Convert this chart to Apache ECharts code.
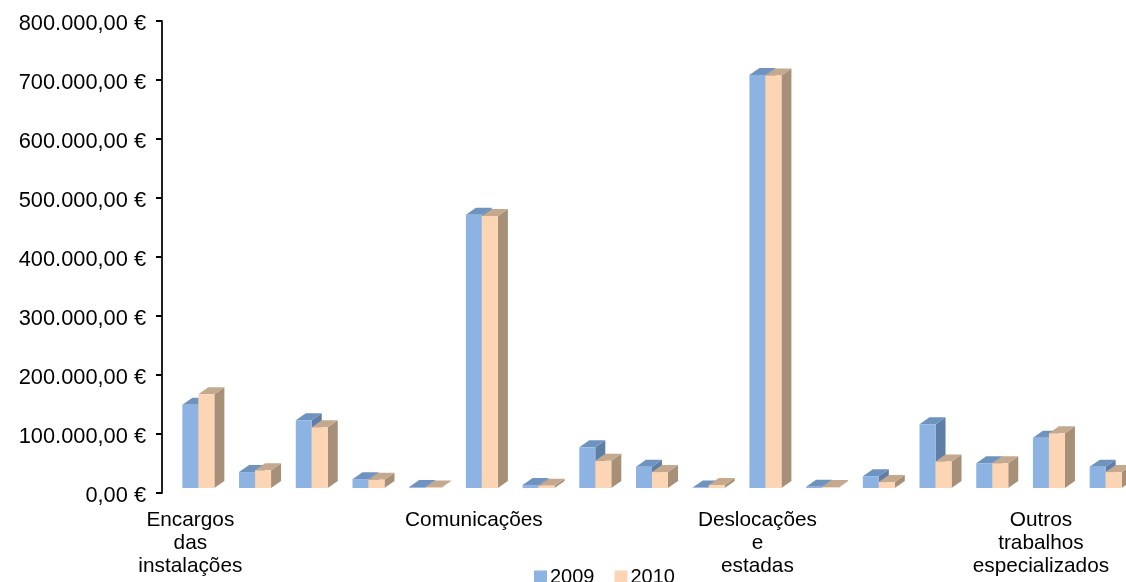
<!DOCTYPE html>
<html><head><meta charset="utf-8">
<style>html,body{margin:0;padding:0;background:#fff}#c{width:1126px;height:582px}</style>
<script src="https://cdn.jsdelivr.net/npm/echarts@6/dist/echarts.min.js"></script>
</head><body><div id="c"></div>
<script>
const categories = ['Encargos\ndas\ninstalações','','','','','Comunicações','','','','','Deslocações\ne\nestadas','','','','','Outros\ntrabalhos\nespecializados',''];
const values2009 = [141000,27000,115000,15000,1500,463000,5000,69000,36000,1000,700000,2000,20000,108000,42000,85000,36000];
const values2010 = [159000,30000,103000,14000,1000,461000,4000,46000,27000,5000,699000,1500,10000,45000,42000,93000,27000];
const tickLabels = ['0,00 €','100.000,00 €','200.000,00 €','300.000,00 €','400.000,00 €','500.000,00 €','600.000,00 €','700.000,00 €','800.000,00 €'];

const BAR_W = 16, DX = 10, DY = 7, FLOOR = 5, SHIFT_X = -8;
const poly = (points, fill) => ({type:'polygon', shape:{points}, style:{fill}, silent:true});
function mk(offset, front, top, side){
  return function(params, api){
    const p = api.coord([api.value(0), api.value(1)]);
    const b = api.coord([api.value(0), 0]);
    const x0 = b[0] + SHIFT_X + offset, x1 = x0 + BAR_W;
    const yb = b[1] - FLOOR, yt = p[1] - FLOOR;
    return {type:'group', children:[
      poly([[x1,yb],[x1+DX,yb-DY],[x1+DX,yt-DY],[x1,yt]], side),
      poly([[x0,yt],[x0+DX,yt-DY],[x1+DX,yt-DY],[x1,yt]], top),
      poly([[x0,yb],[x1,yb],[x1,yt],[x0,yt]], front)
    ]};
  };
}
const chart = echarts.init(document.getElementById('c'), null, {renderer:'canvas'});
chart.setOption({
  animation:false,
  backgroundColor:'#fff',
  grid:{left:162,top:21,width:965,height:472,containLabel:false},
  legend:{
    left:529, top:562, itemWidth:13, itemHeight:13, itemGap:20, icon:'rect',
    data:['2009','2010'],
    textStyle:{fontFamily:'Liberation Sans',fontSize:20,color:'#000',padding:[5,0,0,-2]}
  },
  xAxis:{type:'category',data:categories,
    axisLine:{show:false},axisTick:{show:false},
    axisLabel:{interval:0,margin:16,fontFamily:'Liberation Sans',fontSize:20.8,lineHeight:23,color:'#000',verticalAlign:'top'}},
  yAxis:{type:'value',min:0,max:800000,interval:100000,
    splitLine:{show:false},
    axisLine:{show:true,lineStyle:{color:'#222',width:2}},
    axisTick:{show:true,length:6,lineStyle:{color:'#000',width:2}},
    axisLabel:{margin:16,fontFamily:'Liberation Sans',fontSize:21.8,color:'#000',verticalAlign:'top',lineHeight:5,
      formatter:(v)=>tickLabels[Math.round(v/100000)]}},
  series:[
    {name:'2009',type:'custom',encode:{x:0,y:1},itemStyle:{color:'#8DB3E2'},data:values2009.map((v,i)=>[i,v]),
      renderItem:mk(0,'#8DB3E2','#6F93BF','#5F7EA6')},
    {name:'2010',type:'custom',encode:{x:0,y:1},itemStyle:{color:'#FCD5B5'},data:values2010.map((v,i)=>[i,v]),
      renderItem:mk(BAR_W,'#FCD5B5','#C4A98E','#A89078')}
  ]
});
</script></body></html>
